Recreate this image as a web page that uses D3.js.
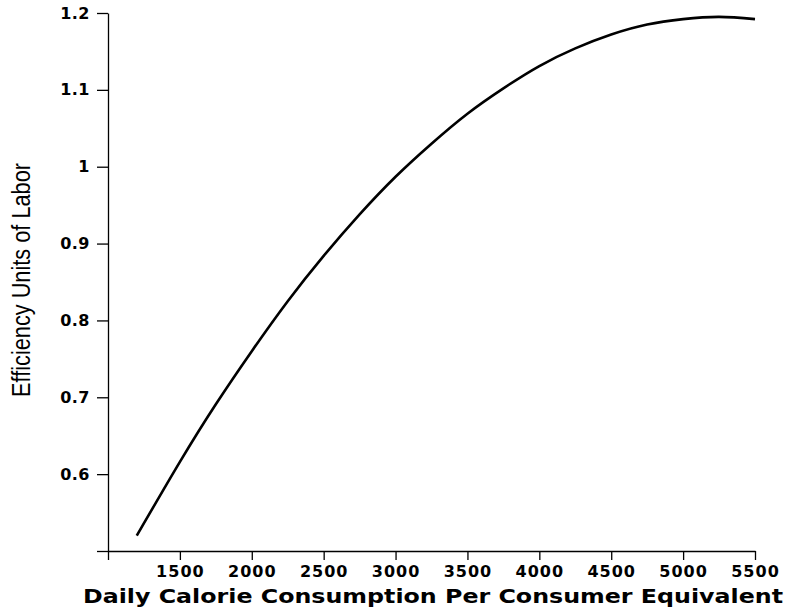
<!DOCTYPE html>
<html>
<head>
<meta charset="utf-8">
<script src="https://cdn.jsdelivr.net/npm/d3@7"></script>
<style>
  body { margin: 0; background: #fff; }
  svg { display: block; }
</style>
</head>
<body>
<script>
// values
const calories = [1200, 1500, 1750, 2000, 2250, 2500, 2750, 3000, 3250, 3500,
  3750, 4000, 4250, 4500, 4750, 5000, 5250, 5500];
const efficiency = [0.520, 0.616, 0.691, 0.760, 0.825, 0.884, 0.938, 0.987, 1.030, 1.069,
  1.102, 1.131, 1.154, 1.172, 1.185, 1.192, 1.195, 1.192];
const xTicks = [1000, 1500, 2000, 2500, 3000, 3500, 4000, 4500, 5000, 5500];
const yTicks = [0.5, 0.6, 0.7, 0.8, 0.9, 1, 1.1, 1.2];

const width = 788;
const height = 611;

const svg = d3.select("body").append("svg")
  .attr("width", width)
  .attr("height", height);

const x = d3.scaleLinear().domain([1000, 5500]).range([108, 755]);
const y = d3.scaleLinear().domain([0.5, 1.2]).range([551, 13]);

const tickFont = "'DejaVu Sans', sans-serif";

//x axis
const gx = svg.append("g")
  .attr("transform", "translate(0," + y(0.5) + ")")
  .call(d3.axisBottom(x)
    .tickValues(xTicks)
    .tickSize(9)
    .tickSizeOuter(0)
    .tickFormat((d) => (d === 1000 ? "" : d)));

gx.selectAll("text")
  .attr("y", 26)
  .attr("dy", 0)
  .attr("font-family", tickFont)
  .attr("font-weight", "bold")
  .attr("font-size", 16)
  .attr("letter-spacing", 1)
  .attr("fill", "#000");

//y axis
const gy = svg.append("g")
  .attr("transform", "translate(" + x(1000) + ",0)")
  .call(d3.axisLeft(y)
    .tickValues(yTicks)
    .tickSize(11)
    .tickSizeOuter(0)
    .tickFormat((d) => (d === 0.5 ? "" : d3.format("")(d))));

gy.selectAll("text")
  .attr("x", -18)
  .attr("font-family", tickFont)
  .attr("font-weight", "bold")
  .attr("font-size", 16)
  .attr("letter-spacing", 0.5)
  .attr("fill", "#000");

svg.selectAll(".domain, .tick line")
  .attr("stroke", "#000")
  .attr("stroke-width", 1.3);

//curve
const points = calories.map((c, i) => [c, efficiency[i]]);
svg.append("path")
  .datum(points)
  .attr("fill", "none")
  .attr("stroke", "#000")
  .attr("stroke-width", 2.6)
  .attr("d", d3.line()
    .x((d) => x(d[0]))
    .y((d) => y(d[1]))
    .curve(d3.curveNatural));

//titles
svg.append("text")
  .attr("x", 83)
  .attr("y", 603)
  .attr("textLength", 700)
  .attr("lengthAdjust", "spacingAndGlyphs")
  .attr("font-family", tickFont)
  .attr("font-weight", "bold")
  .attr("font-size", 19)
  .text("Daily Calorie Consumption Per Consumer Equivalent");

svg.append("text")
  .attr("transform", "translate(30,280) rotate(-90)")
  .attr("text-anchor", "middle")
  .attr("textLength", 234)
  .attr("lengthAdjust", "spacingAndGlyphs")
  .attr("font-family", "'Liberation Sans', Arial, sans-serif")
  .attr("font-size", 25)
  .text("Efficiency Units of Labor");
</script>
</body>
</html>
